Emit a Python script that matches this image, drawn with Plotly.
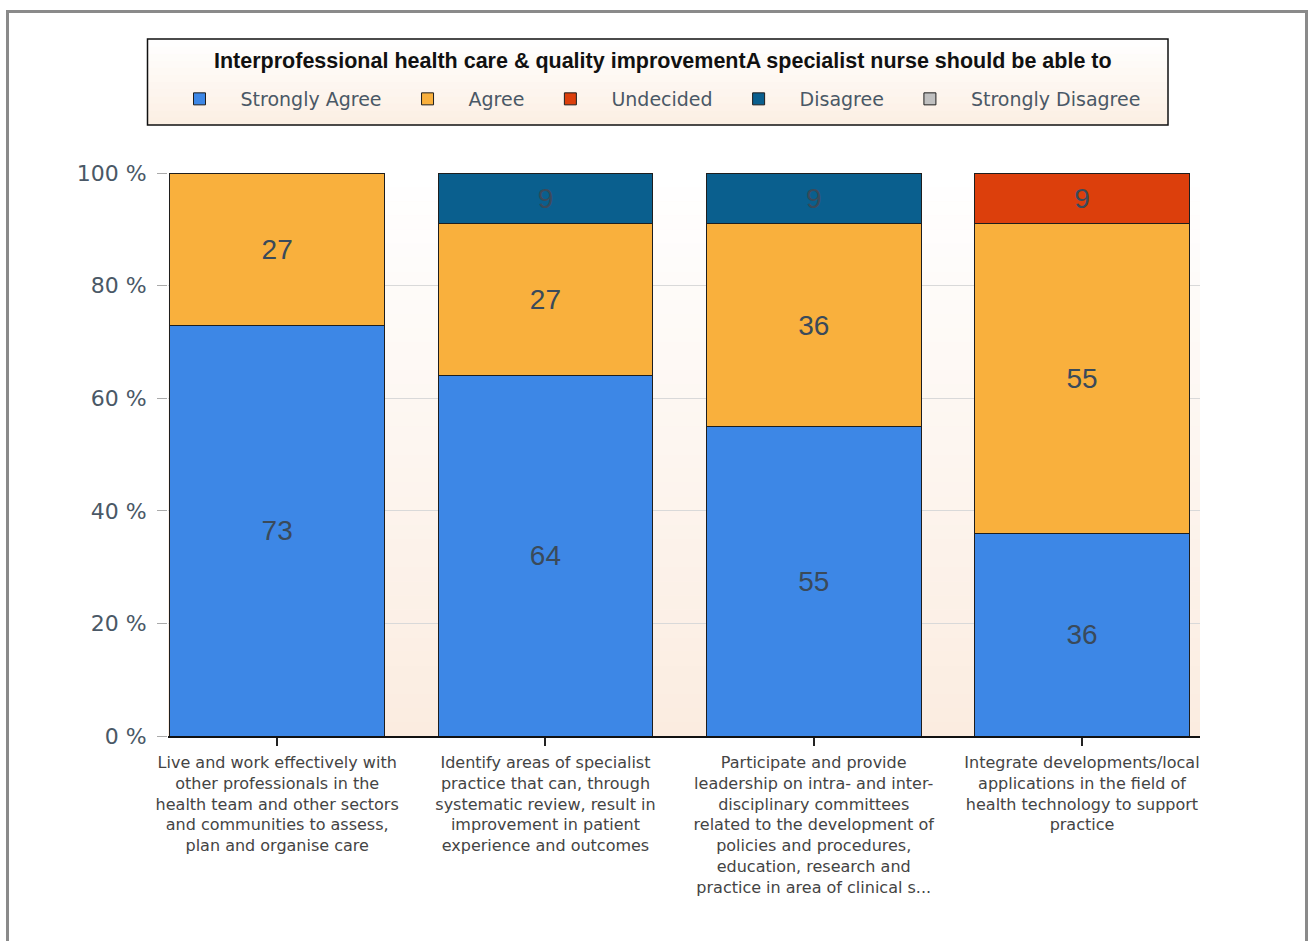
import plotly.graph_objects as go

categories = [
    "Live and work effectively with<br>other professionals in the<br>health team and other sectors<br>and communities to assess,<br>plan and organise care",
    "Identify areas of specialist<br>practice that can, through<br>systematic review, result in<br>improvement in patient<br>experience and outcomes",
    "Participate and provide<br>leadership on intra- and inter-<br>disciplinary committees<br>related to the development of<br>policies and procedures,<br>education, research and<br>practice in area of clinical s...",
    "Integrate developments/local<br>applications in the field of<br>health technology to support<br>practice",
]
strongly_agree = [73, 64, 55, 36]
agree = [27, 27, 36, 55]
undecided = [None, None, None, 9]
disagree = [None, 9, 9, None]
strongly_disagree = [None, None, None, None]

series = [
    ("Strongly Agree", strongly_agree, "#3d87e6"),
    ("Agree", agree, "#f9b03d"),
    ("Undecided", undecided, "#dc3f0c"),
    ("Disagree", disagree, "#0a5f8e"),
    ("Strongly Disagree", strongly_disagree, "#c0c0c0"),
]

chart_title = "Interprofessional health care & quality improvementA specialist nurse should be able to"
yticks = [0, 20, 40, 60, 80, 100]
ytick_labels = [f"{v} %" for v in yticks]

xpos = list(range(len(categories)))

fig = go.Figure()
for name, vals, color in series:
    fig.add_trace(go.Bar(
        x=xpos, y=vals, name=name,
        marker=dict(color=color, line=dict(color="#1e1e1e", width=1)),
        width=0.8,
        text=[("" if v is None else str(v)) for v in vals],
        textposition="inside", insidetextanchor="middle", textangle=0,
        textfont=dict(size=28, color="#3a4a5a", family="Liberation Sans, Arial, sans-serif"),
        hoverinfo="skip",
    ))

W, H = 1313, 941
L, R, T, B = 168, 1200, 173, 736
pw, ph = R - L, B - T

def px(x):
    return (x - L) / pw

def py(y):
    return (B - y) / ph

def blend(c0, c1, t):
    a = [int(c0[i:i + 2], 16) for i in (1, 3, 5)]
    b = [int(c1[i:i + 2], 16) for i in (1, 3, 5)]
    return "rgb(%d,%d,%d)" % tuple(round(a[k] + (b[k] - a[k]) * t) for k in range(3))

def gradient_bands(x0, x1, y0, y1, c_top, c_bot, n):
    out = []
    for i in range(n):
        ya = y0 + (y1 - y0) * i / n
        yb = y0 + (y1 - y0) * (i + 1) / n
        out.append(dict(type="rect", xref="paper", yref="paper",
                        x0=px(x0), x1=px(x1), y0=py(yb + 0.5), y1=py(ya),
                        line=dict(width=0), fillcolor=blend(c_top, c_bot, (i + 0.5) / n),
                        layer="below"))
    return out

shapes = []
shapes += gradient_bands(L, R, T, B, "#ffffff", "#fbece0", 40)
shapes += gradient_bands(148, 1167.5, 39.5, 124.5, "#ffffff", "#fcefe3", 12)
shapes += [
    dict(type="rect", xref="paper", yref="paper",
         x0=px(7.5), x1=px(1306.5), y0=py(990), y1=py(11.5),
         line=dict(color="#8a8a8a", width=3), fillcolor="rgba(0,0,0,0)", layer="below"),
    dict(type="rect", xref="paper", yref="paper",
         x0=px(147.5), x1=px(1168), y0=py(125), y1=py(39),
         line=dict(color="#111111", width=1.5), fillcolor="rgba(0,0,0,0)", layer="below"),
]

fig.update_layout(
    width=W, height=H,
    margin=dict(l=L, r=W - R, t=T, b=H - B, pad=0),
    barmode="stack",
    paper_bgcolor="white",
    plot_bgcolor="#fdf5ee",
    font=dict(family="DejaVu Sans, Verdana, sans-serif", color="#4a5866"),
    showlegend=True,
    legend=dict(
        orientation="h",
        x=px(652), y=py(99), xanchor="center", yanchor="middle",
        bgcolor="rgba(0,0,0,0)", borderwidth=0,
        font=dict(size=19, color="#4a5866", family="DejaVu Sans, Verdana, sans-serif"),
        itemwidth=72,
        traceorder="normal",
    ),
    xaxis=dict(
        range=[-0.407, 3.44],
        tickvals=xpos, ticktext=categories,
        ticks="outside", ticklen=8, tickcolor="#222", tickwidth=1.5,
        ticklabelstandoff=3,
        showline=True, linecolor="#111", linewidth=1.5,
        showgrid=False, zeroline=False,
        tickfont=dict(size=16, color="#444444", family="DejaVu Sans, Verdana, sans-serif"),
        tickangle=0,
    ),
    yaxis=dict(
        range=[0, 100],
        tickvals=yticks, ticktext=ytick_labels,
        ticks="outside", ticklen=10, tickcolor="#aaaaaa",
        ticklabelstandoff=6,
        showline=False, showgrid=True, gridcolor="#d9d9d9", gridwidth=1,
        zeroline=False,
        tickfont=dict(size=22, color="#4a5866"),
    ),
    annotations=[
        dict(text="<b>" + chart_title + "</b>", xref="paper", yref="paper",
             x=px(663), y=py(61), xanchor="center", yanchor="middle", showarrow=False,
             font=dict(size=21.5, color="#111111", family="Liberation Sans Narrow, Arial Narrow, Liberation Sans, sans-serif")),
    ],
    shapes=shapes,
)

fig.write_html("out.html", config={"displayModeBar": False},
               post_script="document.body.style.margin='0';")
